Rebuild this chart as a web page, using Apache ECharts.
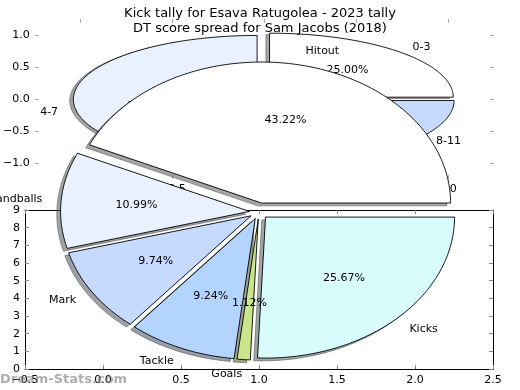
<!DOCTYPE html>
<html>
<head>
<meta charset="utf-8">
<script src="https://cdn.jsdelivr.net/npm/echarts@6/dist/echarts.min.js"></script>
<style>html,body{margin:0;padding:0;background:#fff;}#chart{width:520px;height:390px;}</style>
</head>
<body>
<div id="chart"></div>
<script>
// ---- data ----
const titleKicks = 'Kick tally for Esava Ratugolea - 2023 tally';
const titleDT = 'DT score spread for Sam Jacobs (2018)';
const dtCategories = ['0-3', '4-7', '8-11'];
const dtValues = [25.00, 55.56, 19.44];
const statCategories = ['Hitout', 'Handballs', 'Mark', 'Tackle', 'Goals', 'Kicks'];
const statValues = [43.22, 10.99, 9.74, 9.24, 1.12, 25.67];
const dtAxisTicks = [-1.0, -0.5, 0.0, 0.5, 1.0];
const watermark = 'Dream-Stats.com';

// ---- styles ----
const FONT = '"DejaVu Sans"';
const dtColors = ['#ffffff', '#eaf1fe', '#c6d9ff'];
const statColors = ['#ffffff', '#eaf1fe', '#c6d9ff', '#b3d4ff', '#c9e68a', '#d8fcfc'];
const dtExplode = [0.04, 0.04, 0.04];
const statExplode = [0.065, 0.05, 0.05, 0.05, 0.05, 0.05];

function pieGeom(values, explode) {
  const total = values.reduce((a, b) => a + b, 0);
  let acc = 0;
  return values.map((v, i) => {
    const a1 = acc / total * 2 * Math.PI; acc += v;
    const a2 = acc / total * 2 * Math.PI;
    const mid = (a1 + a2) / 2;
    return { a1, a2, mid, e: explode[i], ox: explode[i] * Math.cos(mid), oy: explode[i] * Math.sin(mid) };
  });
}
function shade(hex) {
  const n = parseInt(hex.slice(1), 16);
  const r = Math.round(((n >> 16) & 255) * 0.3), g = Math.round(((n >> 8) & 255) * 0.3), b = Math.round((n & 255) * 0.3);
  return 'rgba(' + r + ',' + g + ',' + b + ',0.5)';
}
function wedgeRender(geom, colors, isShadow) {
  return function (params, api) {
    const i = params.dataIndex, g = geom[i];
    const cx = g.ox + (isShadow ? -0.02 : 0), cy = g.oy + (isShadow ? -0.02 : 0);
    const pts = [api.coord([cx, cy])];
    const n = Math.max(2, Math.ceil((g.a2 - g.a1) / (Math.PI / 180)));
    for (let k = 0; k <= n; k++) {
      const a = g.a1 + (g.a2 - g.a1) * k / n;
      pts.push(api.coord([cx + Math.cos(a), cy + Math.sin(a)]));
    }
    const col = isShadow ? shade(colors[i]) : colors[i];
    return {
      type: 'polygon', shape: { points: pts },
      style: { fill: col, stroke: isShadow ? col : '#000', lineWidth: isShadow ? 1 : 0.9, lineJoin: 'miter' }
    };
  };
}
function labelRender(geom, names, values) {
  return function (params, api) {
    const i = params.dataIndex, g = geom[i];
    const lx = g.ox + 1.1 * Math.cos(g.mid), ly = g.oy + 1.1 * Math.sin(g.mid);
    const px = g.ox + 0.6 * Math.cos(g.mid), py = g.oy + 0.6 * Math.sin(g.mid);
    const lp = api.coord([lx, ly]), pp = api.coord([px, py]);
    return {
      type: 'group', children: [
        { type: 'text', style: { text: names[i], x: lp[0], y: lp[1], align: lx > 0 ? 'left' : 'right', verticalAlign: 'middle', fontSize: 11, fontFamily: FONT, fill: '#000' } },
        { type: 'text', style: { text: values[i].toFixed(2) + '%', x: pp[0], y: pp[1], align: 'center', verticalAlign: 'middle', fontSize: 11, fontFamily: FONT, fill: '#000' } }
      ]
    };
  };
}
const dtGeom = pieGeom(dtValues, dtExplode);
const statGeom = pieGeom(statValues, statExplode);
const fmt1 = v => (v < 0 ? '\u2212' : '') + Math.abs(v).toFixed(1);

const tickTop = { show: true, inside: true, length: 4, lineStyle: { color: '#aaa', width: 1 }, customValues: dtAxisTicks };
const tickBot = { show: true, inside: true, length: 4, lineStyle: { color: '#888', width: 1 } };
const lblStyle = { fontSize: 11, fontFamily: FONT, color: '#000' };

const option = {
  animation: false,
  backgroundColor: '#fff',
  title: [
    { text: titleKicks, left: 'center', top: 2, textStyle: { fontSize: 13, fontWeight: 'normal', fontFamily: FONT, color: '#000' }, z: 20 },
    { text: titleDT, left: 'center', top: 17, textStyle: { fontSize: 13, fontWeight: 'normal', fontFamily: FONT, color: '#000' }, z: 20 }
  ],
  grid: [
    { left: 26, top: 19, width: 468, height: 160 },
    { left: 25, top: 210, width: 468, height: 159 },
    { left: 22.75, top: 35.75, width: 472.5, height: 352.5 }
  ],
  xAxis: [
    { gridIndex: 0, type: 'value', position: 'bottom', min: -1.25, max: 1.25, z: 1,
      axisLine: { show: false, onZero: false }, splitLine: { show: false }, axisTick: tickTop,
      axisLabel: Object.assign({ customValues: dtAxisTicks, formatter: fmt1, margin: 5 }, lblStyle) },
    { gridIndex: 0, type: 'value', position: 'top', min: -1.25, max: 1.25, z: 1,
      axisLine: { show: false, onZero: false }, splitLine: { show: false }, axisTick: tickTop, axisLabel: { show: false } },
    { gridIndex: 1, type: 'value', position: 'bottom', min: -0.5, max: 2.5, interval: 0.5, z: 5,
      axisLine: { show: true, onZero: false, lineStyle: { color: '#000', width: 1 } }, splitLine: { show: false }, axisTick: tickBot,
      axisLabel: Object.assign({ formatter: fmt1, margin: 6 }, lblStyle) },
    { gridIndex: 1, type: 'value', position: 'top', min: -0.5, max: 2.5, interval: 0.5, z: 5,
      axisLine: { show: true, onZero: false, lineStyle: { color: '#000', width: 1 } }, splitLine: { show: false }, axisTick: tickBot, axisLabel: { show: false } },
    { gridIndex: 2, type: 'value', min: -1.25, max: 1.25, show: false }
  ],
  yAxis: [
    { gridIndex: 0, type: 'value', position: 'left', min: -1.25, max: 1.25, z: 1,
      axisLine: { show: false, onZero: false }, splitLine: { show: false }, axisTick: tickTop,
      axisLabel: Object.assign({ customValues: dtAxisTicks, formatter: fmt1, margin: 5 }, lblStyle) },
    { gridIndex: 0, type: 'value', position: 'right', min: -1.25, max: 1.25, z: 1,
      axisLine: { show: false, onZero: false }, splitLine: { show: false }, axisTick: tickTop, axisLabel: { show: false } },
    { gridIndex: 1, type: 'value', position: 'left', min: 0, max: 9, interval: 1, z: 5,
      axisLine: { show: true, onZero: false, lineStyle: { color: '#000', width: 1 } }, splitLine: { show: false }, axisTick: tickBot,
      axisLabel: Object.assign({ margin: 5 }, lblStyle) },
    { gridIndex: 1, type: 'value', position: 'right', min: 0, max: 9, interval: 1, z: 5,
      axisLine: { show: true, onZero: false, lineStyle: { color: '#000', width: 1 } }, splitLine: { show: false }, axisTick: tickBot, axisLabel: { show: false } },
    { gridIndex: 2, type: 'value', min: -1.25, max: 1.25, show: false }
  ],
  series: [
    { type: 'custom', xAxisIndex: 0, yAxisIndex: 0, z: 2, silent: true, clip: false,
      data: dtValues.map(() => [0, 0]), renderItem: wedgeRender(dtGeom, dtColors, true) },
    { type: 'custom', xAxisIndex: 0, yAxisIndex: 0, z: 3, silent: true, clip: false,
      data: dtValues.map(() => [0, 0]), renderItem: wedgeRender(dtGeom, dtColors, false) },
    { type: 'custom', xAxisIndex: 0, yAxisIndex: 0, z: 4, silent: true, clip: false,
      data: dtValues.map(() => [0, 0]), renderItem: labelRender(dtGeom, dtCategories, dtValues) },
    { type: 'custom', xAxisIndex: 4, yAxisIndex: 4, z: 6, silent: true, clip: false,
      data: statValues.map(() => [0, 0]), renderItem: wedgeRender(statGeom, statColors, true) },
    { type: 'custom', xAxisIndex: 4, yAxisIndex: 4, z: 7, silent: true, clip: false,
      data: statValues.map(() => [0, 0]), renderItem: wedgeRender(statGeom, statColors, false) },
    { type: 'custom', xAxisIndex: 4, yAxisIndex: 4, z: 8, silent: true, clip: false,
      data: statValues.map(() => [0, 0]), renderItem: labelRender(statGeom, statCategories, statValues) }
  ],
  graphic: [
    { type: 'text', left: 0, top: 373, z: 30, silent: true,
      style: { text: watermark, fontSize: 13, fontWeight: 'bold', fontFamily: FONT, fill: 'rgba(120,120,120,0.6)' } }
  ]
};
const chart = echarts.init(document.getElementById('chart'), null, { renderer: 'canvas' });
chart.setOption(option);
</script>
</body>
</html>
